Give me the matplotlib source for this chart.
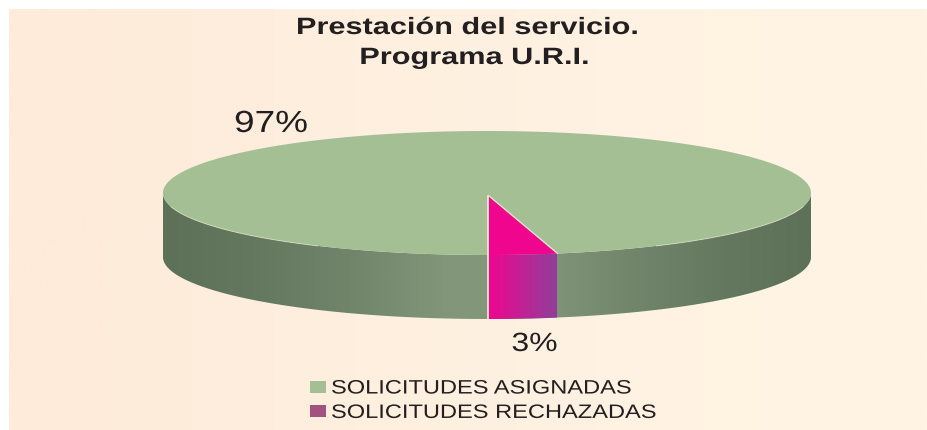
import numpy as np
import matplotlib
matplotlib.use("Agg")
import matplotlib.pyplot as plt
from matplotlib.colors import LinearSegmentedColormap
from matplotlib.patches import Patch, Polygon
from matplotlib.patheffects import AbstractPathEffect
from matplotlib.transforms import Affine2D

title_lines = ["Prestación del servicio.", "Programa U.R.I."]
categories = ["SOLICITUDES ASIGNADAS", "SOLICITUDES RECHAZADAS"]
values = [96.6, 3.4]
value_labels = ["97%", "3%"]
legend_colors = ["#a5bf95", "#a3527f"]

plt.rcParams["font.family"] = ["Liberation Sans", "DejaVu Sans"]
W, H = 927, 430
INK = "#231f20"


class StretchX(AbstractPathEffect):
    """Widen glyphs about a fixed pixel x, as the reference's stretched picture does."""
    def __init__(self, sx, x0):
        super().__init__()
        self.sx, self.x0 = sx, x0

    def draw_path(self, renderer, gc, tpath, affine, rgbFace=None):
        t = affine + Affine2D().translate(-self.x0, 0).scale(self.sx, 1).translate(self.x0, 0)
        renderer.draw_path(gc, tpath, t, rgbFace)


fig = plt.figure(figsize=(W / 100, H / 100), dpi=100, facecolor="white")
ax = fig.add_axes([0, 0, 1, 1])
ax.axis("off")


def cmap(*stops):
    return LinearSegmentedColormap.from_list("c", list(stops))


# panel background
bg = cmap((0, "#feebd9"), (0.2, "#feeddc"), (0.64, "#fff2e2"), (1, "#fff5e4"))
ax.imshow(np.linspace(0, 1, 512)[None, :], extent=(9, W, H, 9), cmap=bg,
          aspect="auto", zorder=0, vmin=0, vmax=1)

# 3D pie geometry
cx, cy, a, b, depth = 487.0, 193.0, 324.0, 62.0, 64.0
tip = (488.5, 196.0)
side = cmap((0, "#5d7058"), (0.14, "#647860"), (0.3, "#71866b"), (0.44, "#82977a"),
            (0.56, "#84997c"), (0.72, "#71866b"), (0.87, "#647860"), (1, "#5d7058"))
mag = cmap("#f0058f", "#8f3f9b")
small = values[1] / sum(values) * 2 * np.pi


def gradient_wall(x, y, cm, z):
    outline = np.column_stack([np.r_[x, x[::-1]], np.r_[y, y[::-1] + depth]])
    poly = Polygon(outline, closed=True, fc="none", ec="none", transform=ax.transData)
    ax.add_patch(poly)
    im = ax.imshow(np.linspace(0, 1, 512)[None, :],
                   extent=(x.min(), x.max(), y.max() + depth, y.min()),
                   cmap=cm, aspect="auto", zorder=z, vmin=0, vmax=1)
    im.set_clip_path(poly)


# side wall: visible lower half
t_all = np.linspace(-np.pi / 2, np.pi / 2, 600)
gradient_wall(cx + a * np.sin(t_all), cy + b * np.cos(t_all), side, 2)

# top ellipse, big slice
t_top = np.linspace(0, 2 * np.pi, 720)
ax.fill(cx + a * np.sin(t_top), cy + b * np.cos(t_top),
        color=legend_colors[0], lw=0, zorder=3)

# pale highlight along the rim
for lo, hi in [(-1.35, -0.55), (0.55, 1.35)]:
    t_r = np.linspace(lo, hi, 100)
    ax.plot(cx + a * np.sin(t_r), cy + b * np.cos(t_r), color="#dfe3c8", lw=0.7, alpha=0.7, zorder=3.5)

# small slice: side wall and top
t_small = np.linspace(0, small, 60)
xw = tip[0] + a * np.sin(t_small)
yw = cy + b * np.cos(t_small)
gradient_wall(xw, yw, mag, 4)
ax.add_patch(Polygon(np.column_stack([np.r_[tip[0], xw], np.r_[tip[1], yw]]),
                     closed=True, fc="#f0058f", ec="none", zorder=5))
# pale edge lines
ax.plot([tip[0] - .5, tip[0] - .5], [tip[1], yw[0] + depth], color="#f4ecd8", lw=1.2, zorder=6)
ax.plot([tip[0], xw[-1]], [tip[1] - .5, yw[-1] - .5], color="#dfe3c8", lw=1.0, zorder=6)

ax.set_xlim(0, W)
ax.set_ylim(H, 0)


def stretched(x, y, s, size, sx, **kw):
    t = ax.text(x, y, s, ha="center", va="baseline", fontsize=size, color=INK, **kw)
    t.set_path_effects([StretchX(sx, x)])
    return t


stretched(467.5, 34, title_lines[0], 17, 1.30, fontweight="bold")
stretched(475, 64, title_lines[1], 17, 1.30, fontweight="bold")
stretched(271, 132, value_labels[0], 22, 1.21)
stretched(534.5, 351, value_labels[1], 19, 1.21)

handles = [Patch(fc=c, ec="none") for c in legend_colors]
leg = ax.legend(handles, categories, loc="upper left", bbox_to_anchor=(310, 380.5),
                bbox_transform=ax.transData, frameon=False, fontsize=14,
                handlelength=0.82, handleheight=0.6, handletextpad=0.26,
                labelspacing=0.38, borderpad=0, borderaxespad=0, labelcolor=INK)

fig.canvas.draw()
r = fig.canvas.get_renderer()
for t in leg.get_texts():
    t.set_path_effects([StretchX(1.215, t.get_window_extent(r).x0)])

fig.savefig("out.png", dpi=100)
